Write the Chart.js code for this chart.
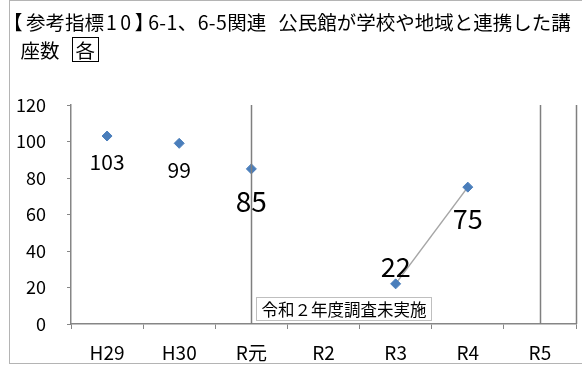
<!DOCTYPE html>
<html>
<head>
<meta charset="utf-8">
<script src="https://cdn.jsdelivr.net/npm/chart.js@4/dist/chart.umd.min.js"></script>
<style>
  html, body { margin: 0; padding: 0; background: #fff; }
  #wrap { position: relative; width: 582px; height: 365px; overflow: hidden; background: #fff; }
  #frame { position: absolute; left: 9px; top: 0; width: 640px; height: 362px;
           border: 1px solid #b4b4b4; border-right: none; }
  .tline { position: absolute; z-index: 2; white-space: nowrap; color: #000;
           font-family: "Noto Sans CJK JP", sans-serif; font-size: 19.5px; line-height: 26px; }
  #t1 { left: 12.7px; top: 9px; }
  #t2 { left: 20.5px; top: 37px; }
  .lb { font-feature-settings: "halt"; letter-spacing: 3.5px; }
  .num { letter-spacing: 3.5px; margin-left: 2px; }
  .rb { letter-spacing: -6px; }
  .sec { letter-spacing: 0.4px; }
  .gap { margin-left: 12px; }
  .box { display: inline-block; border: 1px solid #000; padding: 0 3px; line-height: 23px; margin-left: 12px; }
  canvas { position: absolute; left: 0; top: 0; z-index: 1; }
</style>
</head>
<body>
<div id="wrap">
  <div id="frame"></div>
  <div class="tline" id="t1"><span class="lb">【</span>参考指標<span class="num">10</span><span class="rb">】</span><span class="sec">6-1、6-5</span>関連<span class="gap">公民館が学校や地域と連携した講</span></div>
  <div class="tline" id="t2">座数<span class="box">各</span></div>
  <canvas id="c" width="582" height="365"></canvas>
</div>
<script>
// Fiscal years (H = Heisei, R = Reiwa)
const categories = ['H29', 'H30', 'R元', 'R2', 'R3', 'R4', 'R5'];
// Courses run by community centres together with schools / the local area
const courseCounts = [103, 99, 85, null, 22, 75, null];
// Value axis ticks
const yTickValues = [0, 20, 40, 60, 80, 100, 120];
// Years marked with a vertical divider
const dividerYears = ['R元', 'R5'];
// Only the years from here on are joined by a line
const lineFromYear = 'R3';
// Note shown where no survey was taken
const noteText = '令和２年度調査未実施';

// Label styling per point (font size, vertical offset from the marker)
const labelFontSizes = [21, 21, 28, 0, 27, 27, 0];
const labelOffsets = [26, 27, 32, 0, -17, 32, 0];

const FONT = '"Noto Sans CJK JP", sans-serif';
const lineStart = categories.indexOf(lineFromYear);

const overlay = {
  id: 'overlay',
  afterDatasetsDraw(chart) {
    const { ctx, chartArea, scales } = chart;
    const xs = scales.x;
    ctx.save();
    // vertical dividers and right-hand edge of the plot
    ctx.strokeStyle = '#7f7f7f';
    ctx.lineWidth = 1.5;
    const xsPix = dividerYears.map(c => xs.getPixelForValue(categories.indexOf(c)));
    xsPix.push(chartArea.right);
    xsPix.forEach(x => {
      ctx.beginPath();
      ctx.moveTo(Math.round(x) + 0.5, chartArea.top);
      ctx.lineTo(Math.round(x) + 0.5, chartArea.bottom);
      ctx.stroke();
    });

    // note box next to the R元 divider
    ctx.font = '16.5px ' + FONT;
    const tw = ctx.measureText(noteText).width;
    const bx = Math.round(xs.getPixelForValue(categories.indexOf('R元'))) + 5.5;
    const by = chartArea.bottom - 26.5;
    const bw = Math.round(tw + 10), bh = 23;
    ctx.fillStyle = '#fff';
    ctx.fillRect(bx, by, bw, bh);
    ctx.strokeStyle = '#bfbfbf';
    ctx.lineWidth = 1;
    ctx.strokeRect(bx, by, bw, bh);
    ctx.fillStyle = '#000';
    ctx.textAlign = 'left';
    ctx.textBaseline = 'middle';
    ctx.fillText(noteText, bx + 5, by + bh / 2 + 1);

    // value labels
    const meta = chart.getDatasetMeta(0);
    ctx.textAlign = 'center';
    courseCounts.forEach((v, i) => {
      if (v === null) return;
      const pt = meta.data[i];
      ctx.font = labelFontSizes[i] + 'px ' + FONT;
      ctx.fillText(String(v), pt.x, pt.y + labelOffsets[i]);
    });
    ctx.restore();
  }
};

new Chart(document.getElementById('c'), {
  type: 'line',
  data: {
    labels: categories,
    datasets: [{
      data: courseCounts,
      borderColor: '#a6a6a6',
      borderWidth: 1.5,
      segment: {
        borderColor: s => (s.p0DataIndex >= lineStart ? '#a6a6a6' : 'rgba(0,0,0,0)')
      },
      spanGaps: false,
      pointStyle: 'rectRot',
      pointRadius: 5,
      pointBackgroundColor: '#4a7ebb',
      pointBorderColor: '#4a7ebb',
      pointBorderWidth: 1,
      tension: 0
    }]
  },
  options: {
    responsive: false,
    animation: false,
    events: [],
    layout: { padding: { top: 105, left: 0, right: 5, bottom: 0 } },
    plugins: { legend: { display: false }, tooltip: { enabled: false }, title: { display: false } },
    scales: {
      x: {
        type: 'category',
        offset: true,
        grid: { display: true, drawOnChartArea: false, drawTicks: true, tickLength: 5, color: '#868686', offset: true },
        border: { display: true, color: '#868686', width: 1.5 },
        ticks: { color: '#000', font: { family: FONT, size: 19 }, padding: 12, maxRotation: 0, autoSkip: false },
        afterFit(scale) { scale.height = 41; }
      },
      y: {
        min: 0, max: 120,
        afterBuildTicks(scale) { scale.ticks = yTickValues.map(v => ({ value: v })); },
        grid: { display: true, drawOnChartArea: false, drawTicks: true, tickLength: 4, color: '#868686' },
        border: { display: true, color: '#868686', width: 1.5 },
        ticks: { color: '#000', font: { family: FONT, size: 18 }, padding: 21 },
        afterFit(scale) { scale.width = 71; }
      }
    }
  },
  plugins: [overlay]
});
</script>
</body>
</html>
